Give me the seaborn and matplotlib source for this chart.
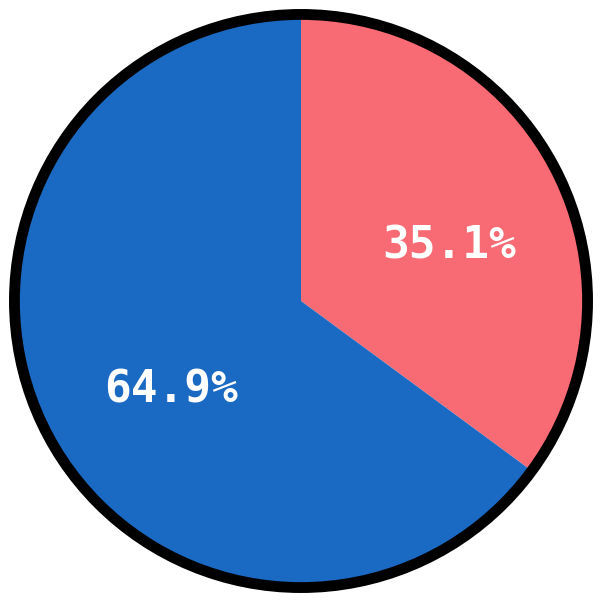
import matplotlib
matplotlib.use("Agg")
import matplotlib.pyplot as plt
import seaborn as sns
import numpy as np

labels = ["A", "B"]
values = [35.1, 64.9]
colors = ["#F86B75", "#1A69C2"]

sns.set_theme(style="white")
plt.rcParams['font.family'] = ['DejaVu Sans Mono', 'DejaVu Sans']

fig = plt.figure(figsize=(6.02, 6.02), dpi=100)
ax = fig.add_axes([0, 0, 1, 1])
wedges, texts, autotexts = ax.pie(values, colors=sns.color_palette(colors), startangle=90,
                                  counterclock=False, radius=1.0, autopct="%.1f%%",
                                  pctdistance=0.55, wedgeprops=dict(linewidth=0),
                                  textprops=dict(color="white", fontsize=32, fontweight="bold"))
# label placement tweaks
angles = [20.4, 214.4]
for t, a in zip(autotexts, angles):
    r = 0.548
    t.set_position((r * np.cos(np.radians(a)), r * np.sin(np.radians(a))))
ax.add_patch(plt.Circle((0, 0), 0.995, fill=False, edgecolor="black", linewidth=7.8))
L = 301 / 288
ax.set_xlim(-L, L)
ax.set_ylim(-L, L)
ax.set_aspect("equal")
ax.axis("off")
fig.savefig("out.png", dpi=100, facecolor="white")
